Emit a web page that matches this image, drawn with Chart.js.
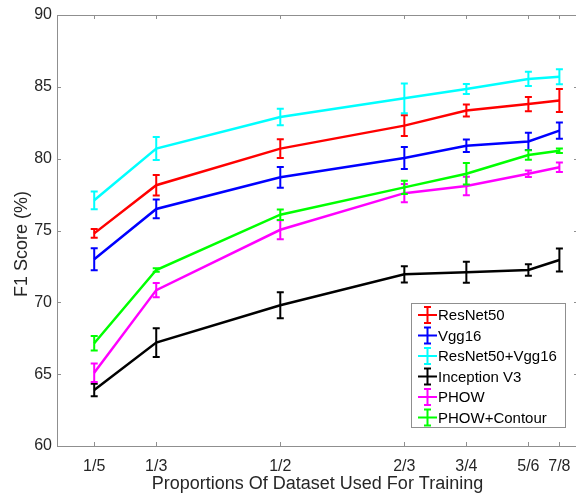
<!DOCTYPE html>
<html>
<head>
<meta charset="utf-8">
<script src="https://cdn.jsdelivr.net/npm/chart.js@4.4.0/dist/chart.umd.min.js"></script>
<style>
html, body { margin: 0; padding: 0; background: #fff; overflow: hidden; }
#wrap { width: 582px; height: 496px; }
</style>
</head>
<body>
<div id="wrap"><canvas id="f1Chart" width="582" height="496"></canvas></div>
<script>
// x position of each training proportion, and the label printed under it
const proportions = [0.25, 1/3, 1/2, 2/3, 3/4, 5/6, 7/8];
const proportionLabels = ['1/5', '1/3', '1/2', '2/3', '3/4', '5/6', '7/8'];
const yTicks = [60, 65, 70, 75, 80, 85, 90];

const seriesNames = ['ResNet50', 'Vgg16', 'ResNet50+Vgg16', 'Inception V3', 'PHOW', 'PHOW+Contour'];
const seriesColors = ['#ff0000', '#0000ff', '#00ffff', '#000000', '#ff00ff', '#00ff00'];

// mean F1 score (%) per proportion
const resnet50 = [74.8, 78.15, 80.7, 82.3, 83.35, 83.8, 84.05];
const vgg16 = [73.0, 76.5, 78.7, 80.05, 80.9, 81.2, 81.95];
const resnetVgg = [77.1, 80.7, 82.9, 84.2, 84.85, 85.55, 85.7];
const inceptionV3 = [63.9, 67.2, 69.8, 71.95, 72.1, 72.25, 72.95];
const phow = [65.1, 70.85, 75.05, 77.6, 78.1, 78.95, 79.4];
const phowContour = [67.15, 72.25, 76.1, 78.0, 78.95, 80.25, 80.55];

// half height of each error bar
const resnet50Err = [0.3, 0.72, 0.65, 0.72, 0.42, 0.5, 0.8];
const vgg16Err = [0.77, 0.65, 0.72, 0.77, 0.43, 0.6, 0.56];
const resnetVggErr = [0.62, 0.8, 0.58, 1.04, 0.35, 0.5, 0.52];
const inceptionV3Err = [0.43, 1.0, 0.9, 0.57, 0.73, 0.4, 0.8];
const phowErr = [0.64, 0.5, 0.66, 0.64, 0.64, 0.23, 0.33];
const phowContourErr = [0.5, 0.12, 0.37, 0.46, 0.75, 0.33, 0.15];

const allMeans = [resnet50, vgg16, resnetVgg, inceptionV3, phow, phowContour];
const allErrors = [resnet50Err, vgg16Err, resnetVggErr, inceptionV3Err, phowErr, phowContourErr];

const FONT = "'Liberation Sans', Arial, Helvetica, sans-serif";
const TEXT_COLOR = '#262626';
const AXIS_COLOR = '#8f8f8f';

// Error bars drawn right after each line so later series sit on top
const errorBarPlugin = {
    id: 'errorBars',
    afterDatasetDraw(chart, args) {
        const ds = chart.data.datasets[args.index];
        const xScale = chart.scales.x;
        const yScale = chart.scales.y;
        const ctx = chart.ctx;
        ctx.save();
        ctx.strokeStyle = ds.borderColor;
        ctx.lineWidth = 2;
        ds.data.forEach((pt, i) => {
            const x = xScale.getPixelForValue(pt.x);
            const lo = yScale.getPixelForValue(pt.y - ds.errors[i]);
            const hi = yScale.getPixelForValue(pt.y + ds.errors[i]);
            ctx.beginPath();
            ctx.moveTo(x, lo); ctx.lineTo(x, hi);
            ctx.moveTo(x - 3.5, lo); ctx.lineTo(x + 3.5, lo);
            ctx.moveTo(x - 3.5, hi); ctx.lineTo(x + 3.5, hi);
            ctx.stroke();
        });
        ctx.restore();
    }
};

// Box around the plot with inward tick marks on all four sides, plus y title
const framePlugin = {
    id: 'frame',
    afterDraw(chart) {
        const { ctx, chartArea: a, scales } = chart;
        ctx.save();
        ctx.strokeStyle = AXIS_COLOR;
        ctx.lineWidth = 1;
        ctx.beginPath();
        ctx.rect(a.left + 0.5, a.top + 0.5, a.right - a.left, a.bottom - a.top);
        proportions.forEach(v => {
            const x = Math.round(scales.x.getPixelForValue(v)) + 0.5;
            ctx.moveTo(x, a.bottom); ctx.lineTo(x, a.bottom - 4);
            ctx.moveTo(x, a.top); ctx.lineTo(x, a.top + 4);
        });
        yTicks.forEach(v => {
            const y = Math.round(scales.y.getPixelForValue(v)) + 0.5;
            ctx.moveTo(a.left, y); ctx.lineTo(a.left + 4, y);
            ctx.moveTo(a.right, y); ctx.lineTo(a.right - 4, y);
        });
        ctx.stroke();

        // y axis title, sits a little below the axis centre in the original
        ctx.translate(22, 244);
        ctx.rotate(-Math.PI / 2);
        ctx.fillStyle = TEXT_COLOR;
        ctx.font = '18px ' + FONT;
        ctx.textAlign = 'center';
        ctx.textBaseline = 'middle';
        ctx.fillText('F1 Score (%)', 0, 0);
        ctx.restore();
    }
};

// Legend box in the lower right corner, errorbar-style symbols
const legendPlugin = {
    id: 'boxLegend',
    afterDraw(chart) {
        const ctx = chart.ctx;
        const box = { left: 411.5, top: 303.5, width: 154, height: 124 };
        ctx.save();
        ctx.fillStyle = '#ffffff';
        ctx.fillRect(box.left, box.top, box.width, box.height);
        ctx.strokeStyle = AXIS_COLOR;
        ctx.lineWidth = 1;
        ctx.strokeRect(box.left, box.top, box.width, box.height);
        ctx.font = '15px ' + FONT;
        ctx.textBaseline = 'middle';
        seriesNames.forEach((name, i) => {
            const y = 315 + i * 20.5;
            const cx = 427.5;
            ctx.strokeStyle = seriesColors[i];
            ctx.lineWidth = 2;
            ctx.beginPath();
            ctx.moveTo(418, y); ctx.lineTo(437, y);
            ctx.moveTo(cx, y - 8); ctx.lineTo(cx, y + 8);
            ctx.moveTo(cx - 3.5, y - 8); ctx.lineTo(cx + 3.5, y - 8);
            ctx.moveTo(cx - 3.5, y + 8); ctx.lineTo(cx + 3.5, y + 8);
            ctx.stroke();
            ctx.fillStyle = '#000000';
            ctx.fillText(name, 438, y + 1);
        });
        ctx.restore();
    }
};

const datasets = seriesNames.map((name, i) => ({
    label: name,
    data: proportions.map((x, j) => ({ x: x, y: allMeans[i][j] })),
    errors: allErrors[i],
    borderColor: seriesColors[i],
    backgroundColor: seriesColors[i],
    borderWidth: 2.5,
    pointRadius: 0,
    tension: 0,
    fill: false,
    order: seriesNames.length - i
}));

new Chart(document.getElementById('f1Chart').getContext('2d'), {
    type: 'line',
    data: { datasets: datasets },
    options: {
        responsive: false,
        animation: false,
        layout: { padding: { top: 15, right: 4, left: 0, bottom: 0 } },
        plugins: {
            legend: { display: false },
            tooltip: { enabled: false }
        },
        scales: {
            x: {
                type: 'linear',
                min: 0.2,
                max: 0.9,
                afterBuildTicks: scale => {
                    scale.ticks = proportions.map(v => ({ value: v }));
                },
                afterFit: scale => { scale.height = 50; },
                grid: { display: false, drawTicks: false },
                border: { display: false },
                ticks: {
                    autoSkip: false,
                    maxRotation: 0,
                    padding: 11,
                    color: TEXT_COLOR,
                    font: { family: FONT, size: 16 },
                    callback: (value, index) => proportionLabels[index]
                },
                title: {
                    display: true,
                    text: 'Proportions Of Dataset Used For Training',
                    color: TEXT_COLOR,
                    font: { family: FONT, size: 18 },
                    padding: { top: 0, bottom: 1 }
                }
            },
            y: {
                min: 60,
                max: 90,
                afterBuildTicks: scale => {
                    scale.ticks = yTicks.map(v => ({ value: v }));
                },
                afterFit: scale => { scale.width = 57; },
                grid: { display: false, drawTicks: false },
                border: { display: false },
                ticks: {
                    padding: 5,
                    color: TEXT_COLOR,
                    font: { family: FONT, size: 16 }
                },
                title: { display: false }
            }
        }
    },
    plugins: [errorBarPlugin, framePlugin, legendPlugin]
});
</script>
</body>
</html>
